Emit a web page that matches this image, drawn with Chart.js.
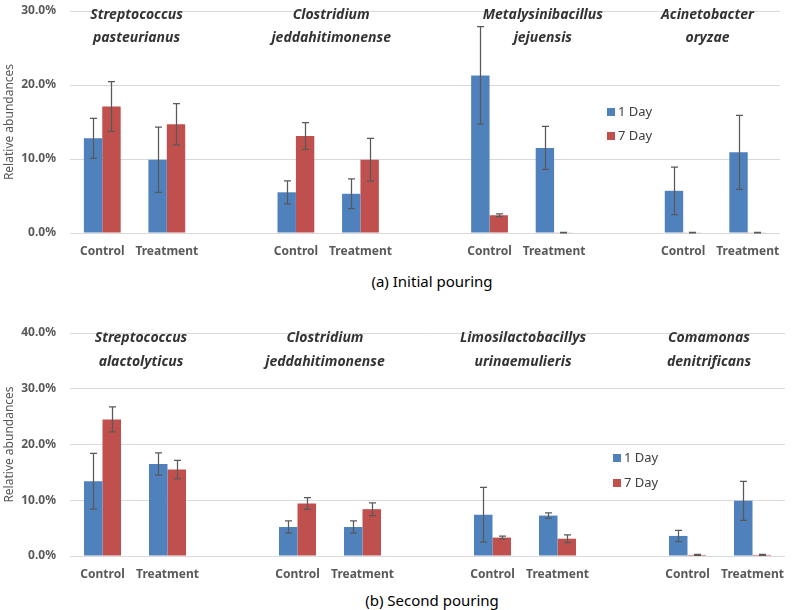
<!DOCTYPE html>
<html><head><meta charset="utf-8">
<script src="https://cdn.jsdelivr.net/npm/chart.js@4"></script>
<style>
body{margin:0;background:#fff;width:800px;height:610px;overflow:hidden;position:relative;font-family:"Noto Sans",sans-serif}
canvas{position:absolute;left:0}
#c1{top:0}
#c2{top:300px}
.cap{position:absolute;left:282px;width:300px;text-align:center;font-size:15px;line-height:20px;color:#000}
</style>
</head><body>
<canvas id="c1" width="800" height="265"></canvas>
<div class="cap" style="top:271px">(a) Initial pouring</div>
<canvas id="c2" width="800" height="285"></canvas>
<div class="cap" style="top:590px">(b) Second pouring</div>
<script>
// ---------- data ----------
const categories = ['Control','Treatment','','Control','Treatment','','Control','Treatment','','Control','Treatment'];
const seriesLabels = ['1 Day','7 Day'];

const titlesA = [['Streptococcus','pasteurianus'],['Clostridium','jeddahitimonense'],['Metalysinibacillus','jejuensis'],['Acinetobacter','oryzae']];
const day1A    = [12.8, 9.9, null, 5.5, 5.3, null, 21.3, 11.5, null, 5.7, 10.9];
const day1AErr = [2.7, 4.4, null, 1.55, 2.0, null, 6.6, 2.9, null, 3.2, 5.0];
const day7A    = [17.1, 14.7, null, 13.1, 9.9, null, 2.4, 0.05, null, 0.05, 0.05];
const day7AErr = [3.35, 2.8, null, 1.8, 2.9, null, 0.2, 0.03, null, 0.03, 0.03];
const ticksA   = [0, 10, 20, 30];

const titlesB = [['Streptococcus','alactolyticus'],['Clostridium','jeddahitimonense'],['Limosilactobacillys','urinaemulieris'],['Comamonas','denitrificans']];
const day1B    = [13.4, 16.5, null, 5.2, 5.2, null, 7.4, 7.25, null, 3.6, 9.9];
const day1BErr = [5.0, 2.0, null, 1.1, 1.1, null, 4.9, 0.5, null, 1.0, 3.5];
const day7B    = [24.5, 15.5, null, 9.4, 8.4, null, 3.3, 3.1, null, 0.2, 0.2];
const day7BErr = [2.25, 1.65, null, 1.05, 1.15, null, 0.25, 0.7, null, 0.1, 0.1];
const ticksB   = [0, 10, 20, 30, 40];

// ---------- style / layout ----------
const COLORS = ['#4F81BD', '#C0504D'];
const GREY = '#595959';
const FONT = '"Noto Sans", sans-serif';

const errorBarPlugin = {
  id: 'errorBars',
  afterDatasetsDraw(chart) {
    const ctx = chart.ctx, y = chart.scales.y;
    ctx.save();
    ctx.strokeStyle = GREY; ctx.lineWidth = 1.25;
    chart.data.datasets.forEach((ds, i) => {
      const meta = chart.getDatasetMeta(i);
      meta.data.forEach((el, j) => {
        const v = ds.data[j], e = ds.errors[j];
        if (v == null || e == null) return;
        const x = Math.round(el.x) + 0.5;
        const t = y.getPixelForValue(v + e), b = y.getPixelForValue(Math.max(v - e, 0));
        ctx.beginPath();
        ctx.moveTo(x, t); ctx.lineTo(x, b);
        ctx.moveTo(x - 3.5, t); ctx.lineTo(x + 3.5, t);
        ctx.moveTo(x - 3.5, b); ctx.lineTo(x + 3.5, b);
        ctx.stroke();
      });
    });
    ctx.restore();
  }
};

const decorPlugin = {
  id: 'decor',
  afterDraw(chart, args, opts) {
    const ctx = chart.ctx, x = chart.scales.x;
    ctx.save();
    ctx.font = 'italic bold 14px ' + FONT;
    ctx.fillStyle = '#333';
    ctx.textAlign = 'center'; ctx.textBaseline = 'middle';
    opts.titles.forEach((lines, g) => {
      const cx = (x.getPixelForValue(g * 3) + x.getPixelForValue(g * 3 + 1)) / 2 + opts.nudge[g];
      lines.forEach((s, k) => ctx.fillText(s, cx, opts.titleY[k]));
    });
    ctx.font = '13px ' + FONT;
    ctx.textAlign = 'left';
    chart.data.datasets.forEach((ds, i) => {
      const yy = opts.legend.y + i * opts.legend.gap;
      ctx.fillStyle = ds.backgroundColor;
      ctx.fillRect(opts.legend.x, yy - 4, 8, 8);
      ctx.fillStyle = '#404040';
      ctx.fillText(ds.label, opts.legend.x + 11, yy + 0.5);
    });
    ctx.restore();
  }
};

function makeChart(id, d1, e1, d7, e7, ticks, titles, lay) {
  new Chart(document.getElementById(id), {
    type: 'bar',
    data: {
      labels: categories,
      datasets: [
        { label: seriesLabels[0], data: d1, errors: e1, backgroundColor: COLORS[0] },
        { label: seriesLabels[1], data: d7, errors: e7, backgroundColor: COLORS[1] }
      ]
    },
    options: {
      responsive: false,
      animation: false,
      categoryPercentage: 0.57,
      barPercentage: 1.0,
      layout: { padding: { left: 0, right: lay.right, top: lay.top, bottom: 0 } },
      plugins: {
        legend: { display: false },
        tooltip: { enabled: false },
        decor: { titles: titles, nudge: lay.nudge, titleY: lay.titleY, legend: lay.legend }
      },
      scales: {
        x: {
          grid: { display: false, drawTicks: false },
          border: { display: false },
          ticks: { color: GREY, font: { family: FONT, size: 12, weight: 'bold' }, padding: 11, maxRotation: 0, autoSkip: false },
          afterFit(s) { s.height = lay.xh; s.paddingLeft = 0; s.paddingRight = 0; }
        },
        y: {
          min: ticks[0], max: ticks[ticks.length - 1],
          afterBuildTicks(s) { s.ticks = ticks.map(v => ({ value: v })); },
          grid: { color: '#D9D9D9', drawTicks: false, lineWidth: 1 },
          border: { display: false },
          ticks: { color: GREY, font: { family: FONT, size: 12, weight: 'bold' }, padding: 14,
                   callback: v => v.toFixed(1) + '%' },
          title: { display: true, text: 'Relative abundances', color: GREY,
                   font: { family: FONT, size: 12 }, padding: { top: 2, bottom: 0 } },
          afterFit(s) { s.width = 70; s.paddingTop = 0; s.paddingBottom = 0; }
        }
      }
    },
    plugins: [errorBarPlugin, decorPlugin]
  });
}

makeChart('c1', day1A, day1AErr, day7A, day7AErr, ticksA, titlesA,
  { right: 20, top: 11, xh: 32, nudge: [2, 3, 21, -8], titleY: [15, 38], legend: { x: 607, y: 112, gap: 24 } });
makeChart('c2', day1B, day1BErr, day7B, day7BErr, ticksB, titlesB,
  { right: 15, top: 33, xh: 29, nudge: [6, -5, -2, -11], titleY: [38, 62], legend: { x: 613, y: 158, gap: 25 } });
</script>
</body></html>
